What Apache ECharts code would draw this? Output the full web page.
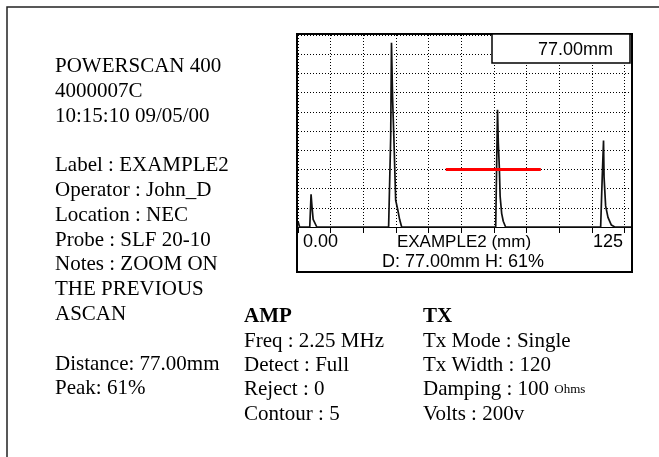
<!DOCTYPE html>
<html>
<head>
<meta charset="utf-8">
<script src="https://cdn.jsdelivr.net/npm/echarts@6/dist/echarts.min.js"></script>
<style>
html,body{margin:0;padding:0;background:#fff;}
#c{width:659px;height:457px;}
</style>
</head>
<body>
<div id="c"></div>
<script>
// ---- data ----
const distanceMm = [0, 0.6, 4.5, 5.0, 5.4, 5.8, 6.4, 7.2,
  34.7, 35.5, 35.8, 36.2, 36.7, 37.4, 38.2, 38.9, 39.7,
  75.7, 76.4, 76.7, 77.1, 77.4, 78.0, 78.6, 79.5,
  115.9, 116.5, 117.0, 117.2, 117.8, 118.7, 120.0, 121.3, 127.9];
const amplitudePct = [3, 0, 0, 17, 10, 4, 3, 0,
  0, 47, 96, 68, 47, 14, 9, 4, 0,
  0, 61, 44, 31, 16, 7, 3, 0,
  0, 26, 45, 26, 11, 5, 1, 0, 0];
const gateStartMm = 56.6;
const gateEndMm = 93.0;
const gateLevelPct = 30;
const rangeStartLabel = '0.00';
const rangeEndLabel = '125';
const axisTitle = 'EXAMPLE2 (mm)';
const readoutLabel = '77.00mm';
const statusLabel = 'D: 77.00mm H: 61%';
const infoLeft = ['POWERSCAN 400', '4000007C', '10:15:10 09/05/00', '',
  'Label : EXAMPLE2', 'Operator : John_D', 'Location : NEC', 'Probe : SLF 20-10',
  'Notes : ZOOM ON', 'THE PREVIOUS', 'ASCAN', '', 'Distance: 77.00mm', 'Peak: 61%'];
const ampTitle = 'AMP';
const ampLines = ['Freq : 2.25 MHz', 'Detect : Full', 'Reject : 0', 'Contour : 5'];
const txTitle = 'TX';
const txLines = ['Tx Mode : Single', 'Tx Width : 120', 'Damping : 100 {s|Ohms}', 'Volts : 200v'];

// ---- chart ----
const serif = 'Liberation Serif';
const sans = 'Liberation Sans';
const chart = echarts.init(document.getElementById('c'), null, {renderer: 'canvas'});
const trace = distanceMm.map((d, i) => [d, amplitudePct[i]]);

const graphics = [
  {type: 'rect', shape: {x: 7, y: 7, width: 700, height: 500}, style: {fill: 'none', stroke: '#222', lineWidth: 1.5}, z: 1},
  {type: 'rect', shape: {x: 297, y: 34, width: 335, height: 238}, style: {fill: 'none', stroke: '#000', lineWidth: 2}, z: 100},
  {type: 'rect', shape: {x: 492, y: 34, width: 138, height: 29}, style: {fill: '#fff', stroke: '#000', lineWidth: 1.5}, z: 101},
  {type: 'text', x: 613, y: 50, style: {text: readoutLabel, font: '18px ' + sans, fill: '#000', textAlign: 'right', textVerticalAlign: 'middle'}, z: 102},
  {type: 'text', x: 303, y: 242, style: {text: rangeStartLabel, font: '18px ' + sans, fill: '#000', textAlign: 'left', textVerticalAlign: 'middle'}, z: 102},
  {type: 'text', x: 464, y: 242, style: {text: axisTitle, font: '17px ' + sans, fill: '#000', textAlign: 'center', textVerticalAlign: 'middle'}, z: 102},
  {type: 'text', x: 623, y: 242, style: {text: rangeEndLabel, font: '18px ' + sans, fill: '#000', textAlign: 'right', textVerticalAlign: 'middle'}, z: 102},
  {type: 'text', x: 463, y: 262, style: {text: statusLabel, font: '18px ' + sans, fill: '#000', textAlign: 'center', textVerticalAlign: 'middle'}, z: 102}
];
infoLeft.forEach((t, i) => {
  if (!t) return;
  graphics.push({type: 'text', x: 55, y: 66.5 + i * 24.8,
    style: {text: t, font: '21px ' + serif, fill: '#000', textVerticalAlign: 'middle'}, z: 102});
});
graphics.push({type: 'text', x: 244, y: 317, style: {text: ampTitle, font: 'bold 21px ' + serif, fill: '#000', textVerticalAlign: 'middle'}, z: 102});
ampLines.forEach((t, i) => {
  graphics.push({type: 'text', x: 244, y: 317 + (i + 1) * 24.3,
    style: {text: t, font: '21px ' + serif, fill: '#000', textVerticalAlign: 'middle'}, z: 102});
});
graphics.push({type: 'text', x: 423, y: 317, style: {text: txTitle, font: 'bold 21px ' + serif, fill: '#000', textVerticalAlign: 'middle'}, z: 102});
txLines.forEach((t, i) => {
  graphics.push({type: 'text', x: 423, y: 317 + (i + 1) * 24.3,
    style: {text: t, fontFamily: serif, fontSize: 21, fill: '#000', textVerticalAlign: 'middle',
      rich: {s: {fontFamily: serif, fontSize: 13, fill: '#000'}}}, z: 102});
});

chart.setOption({
  animation: false,
  backgroundColor: '#fff',
  grid: {left: 298, top: 35, width: 334, height: 192, containLabel: false},
  xAxis: {
    type: 'value', min: 0, max: 127.9, interval: 12.5,
    axisLine: {show: true, lineStyle: {color: '#000', width: 1}},
    axisTick: {show: true, length: 6, lineStyle: {color: '#000', width: 1}},
    axisLabel: {show: false},
    splitLine: {show: true, lineStyle: {color: '#000', width: 1, type: [1, 2]}}
  },
  yAxis: {
    type: 'value', min: 0, max: 100, interval: 10,
    axisLine: {show: false}, axisTick: {show: false}, axisLabel: {show: false},
    splitLine: {show: true, lineStyle: {color: '#000', width: 1, type: [1, 2]}}
  },
  series: [
    {type: 'line', data: trace, symbol: 'none', lineStyle: {color: '#111', width: 1.7}, z: 3},
    {type: 'line', data: [[gateStartMm, gateLevelPct], [gateEndMm, gateLevelPct]], symbol: 'none',
      lineStyle: {color: '#f00', width: 3}, z: 4}
  ],
  graphic: graphics
});
</script>
</body>
</html>
